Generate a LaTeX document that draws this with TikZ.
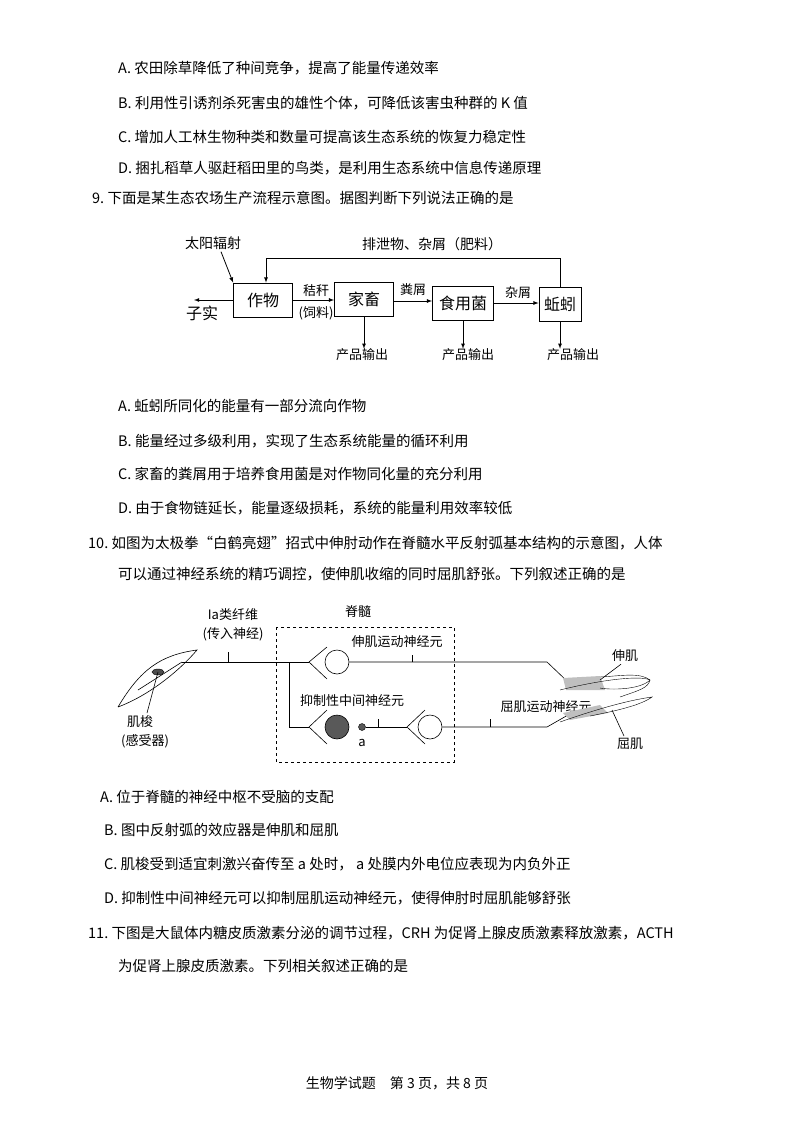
\documentclass[tikz,border=0pt]{standalone}
\usepackage{fontspec}
\setmainfont{Noto Sans CJK SC}
\begin{document}
\begin{tikzpicture}[x=1pt,y=-1pt,
 txt/.style={anchor=west,inner sep=0,font=\fontsize{14.5}{16}\selectfont},
 lab/.style={inner sep=0,font=\fontsize{14}{16}\selectfont},
 sm/.style={inner sep=0,font=\fontsize{13}{15}\selectfont},
 box/.style={draw,thick,minimum height=34,inner sep=0,font=\fontsize{16}{18}\selectfont},
 arr/.style={-latex,thick},
 nl/.style={semithick}]
\useasboundingbox (0,0) rectangle (794,1124);
\node[txt] (l1) at (118,68) {A.\ 农田除草降低了种间竞争，提高了能量传递效率};
\node[txt] (l2) at (118,103) {B.\ 利用性引诱剂杀死害虫的雄性个体，可降低该害虫种群的 K 值};
\node[txt] (l3) at (118,137) {C.\ 增加人工林生物种类和数量可提高该生态系统的恢复力稳定性};
\node[txt] (l4) at (118,168) {D.\ 捆扎稻草人驱赶稻田里的鸟类，是利用生态系统中信息传递原理};
\node[txt] (q9) at (92,198) {9.\ 下面是某生态农场生产流程示意图。据图判断下列说法正确的是};
% flow diagram
\node[box,minimum width=59] (zw) at (263,300) {作物};
\node[box,minimum width=59] (jc) at (364,299) {家畜};
\node[box,minimum width=61] (sy) at (463,303) {食用菌};
\node[box,minimum width=42] (qy) at (560,304) {蚯蚓};
\node[lab] (sun) at (213,243) {太阳辐射};
\node[lab] (fert) at (432,244) {排泄物、杂屑（肥料）};
\node[lab,font=\fontsize{16}{18}\selectfont] (zs) at (202,313) {子实};
\coordinate (zsp) at (194,300);
\draw[arr] (zw.west) -- (zsp);
\draw[arr] (sun.south) ++(8,2) -- (zw.north west);
\draw[arr] (qy.north) |- (266,258) -- (zw.north-|266,0);
\draw[arr] (zw.east) -- (jc.west|-zw.east);
\node[sm] (jg) at (316,291) {秸秆};
\node[sm] (sl) at (316,313) {(饲料)};
\draw[arr] (jc.east) ++(0,2) -- (sy.west|-{(0,301)});
\node[sm] (fx) at (413,290) {粪屑};
\draw[arr] (sy.east) -- (qy.west|-sy.east);
\node[sm] (zx) at (518,293) {杂屑};
\node[sm] (o1) at (362,355) {产品输出};
\node[sm] (o2) at (468,355) {产品输出};
\node[sm] (o3) at (573,355) {产品输出};
\draw[arr] (jc.south) -- (jc.south|-o1.north);
\draw[arr] (sy.south) -- (sy.south|-o2.north);
\draw[arr] (qy.south) -- (qy.south|-o3.north);
\node[txt] (m1) at (118,406) {A.\ 蚯蚓所同化的能量有一部分流向作物};
\node[txt] (m2) at (118,441) {B.\ 能量经过多级利用，实现了生态系统能量的循环利用};
\node[txt] (m3) at (118,474) {C.\ 家畜的粪屑用于培养食用菌是对作物同化量的充分利用};
\node[txt] (m4) at (118,508) {D.\ 由于食物链延长，能量逐级损耗，系统的能量利用效率较低};
\node[txt] (q10) at (88,543) {10.\ 如图为太极拳“白鹤亮翅”招式中伸肘动作在脊髓水平反射弧基本结构的示意图，人体};
\node[txt] (q10b) at (118,574) {可以通过神经系统的精巧调控，使伸肌收缩的同时屈肌舒张。下列叙述正确的是};
% neural diagram
\node[sm] (ia) at (233,615) {Ia类纤维};
\node[sm] (cr) at (233,634) {(传入神经)};
\node[sm] (jsui) at (358,612) {脊髓};
\draw[dashed,thick] (276,627) rectangle (454,762);
\draw[nl] (118,707) .. controls (140,670) and (160,655) .. (197,650) .. controls (180,670) and (150,695) .. (118,707);
\draw[nl] (138,690) -- (182,662);
\draw[fill=black!70] (158,672) ellipse (6 and 3);
\draw[nl] (158,672) -- (147,713);
\node[sm] (jsz) at (140,722) {肌梭};
\node[sm] (gsq) at (145,741) {(感受器)};
\draw[nl] (182,662) -- (309,662);
\draw[nl] (228,662) -- (228,652);
\draw[nl] (327,647) -- (309,662) -- (327,679);
\node[draw,nl,circle,minimum size=24,inner sep=0] (c1) at (337,662) {};
\draw[nl] (c1.east) -- (547,662) -- (568,682);
\draw[nl] (412,662) -- (412,655);
\node[sm] (sjy) at (397,642) {伸肌运动神经元};
\draw[nl] (289,662) -- (289,727) -- (309,727);
\draw[nl] (327,710) -- (309,727) -- (327,744);
\node[draw,nl,circle,fill=black!65,minimum size=24,inner sep=0] (c2) at (337,727) {};
\node[draw,circle,fill=black!65,minimum size=7,inner sep=0] (ca) at (362,727) {};
\node[sm] (a) at (362,743) {a};
\draw[nl] (ca.east) -- (407,727);
\draw[nl] (378,727) -- (378,719);
\node[sm] (yz) at (352,701) {抑制性中间神经元};
\draw[nl] (425,710) -- (407,727) -- (425,744);
\node[draw,nl,circle,minimum size=24,inner sep=0] (c3) at (430,727) {};
\draw[nl] (c3.east) -- (547,727) -- (568,715);
\draw[nl] (490,727) -- (490,719);
\node[sm] (qjy) at (546,707) {屈肌运动神经元};
% arm and muscles
\fill[black!25] (563,678) -- (600,676) -- (605,690) -- (566,690) -- cycle;
\draw[thin] (560,690) .. controls (600,680) and (640,675) .. (650,680) .. controls (640,690) and (610,690) .. (600,688);
\draw[thin] (600,677) .. controls (620,676) and (640,672) .. (650,680);
\fill[black!25] (563,713) -- (600,705) -- (608,713) -- (570,720) -- cycle;
\draw[thin] (560,722) .. controls (600,708) and (630,700) .. (652,697) .. controls (640,706) and (610,712) .. (590,716);
\draw[thin] (620,697) .. controls (640,690) and (648,688) .. (650,680);
\node[sm] (sj) at (625,656) {伸肌};
\node[sm] (qj) at (630,744) {屈肌};
\draw[nl] (sj.south) ++(-4,2) -- (600,680);
\draw[nl] (qj.north) ++(-6,-2) -- (612,710);
% options
\node[txt] (n1) at (100,797) {A.\ 位于脊髓的神经中枢不受脑的支配};
\node[txt] (n2) at (104,830) {B.\ 图中反射弧的效应器是伸肌和屈肌};
\node[txt] (n3) at (104,864) {C.\ 肌梭受到适宜刺激兴奋传至 a 处时，\ a 处膜内外电位应表现为内负外正};
\node[txt] (n4) at (104,898) {D.\ 抑制性中间神经元可以抑制屈肌运动神经元，使得伸肘时屈肌能够舒张};
\node[txt] (q11) at (88,933) {11.\ 下图是大鼠体内糖皮质激素分泌的调节过程，CRH 为促肾上腺皮质激素释放激素，ACTH};
\node[txt] (q11b) at (118,966) {为促肾上腺皮质激素。下列相关叙述正确的是};
\node[lab] (foot) at (397,1083) {生物学试题\quad 第 3 页，共 8 页};
\end{tikzpicture}
\end{document}
